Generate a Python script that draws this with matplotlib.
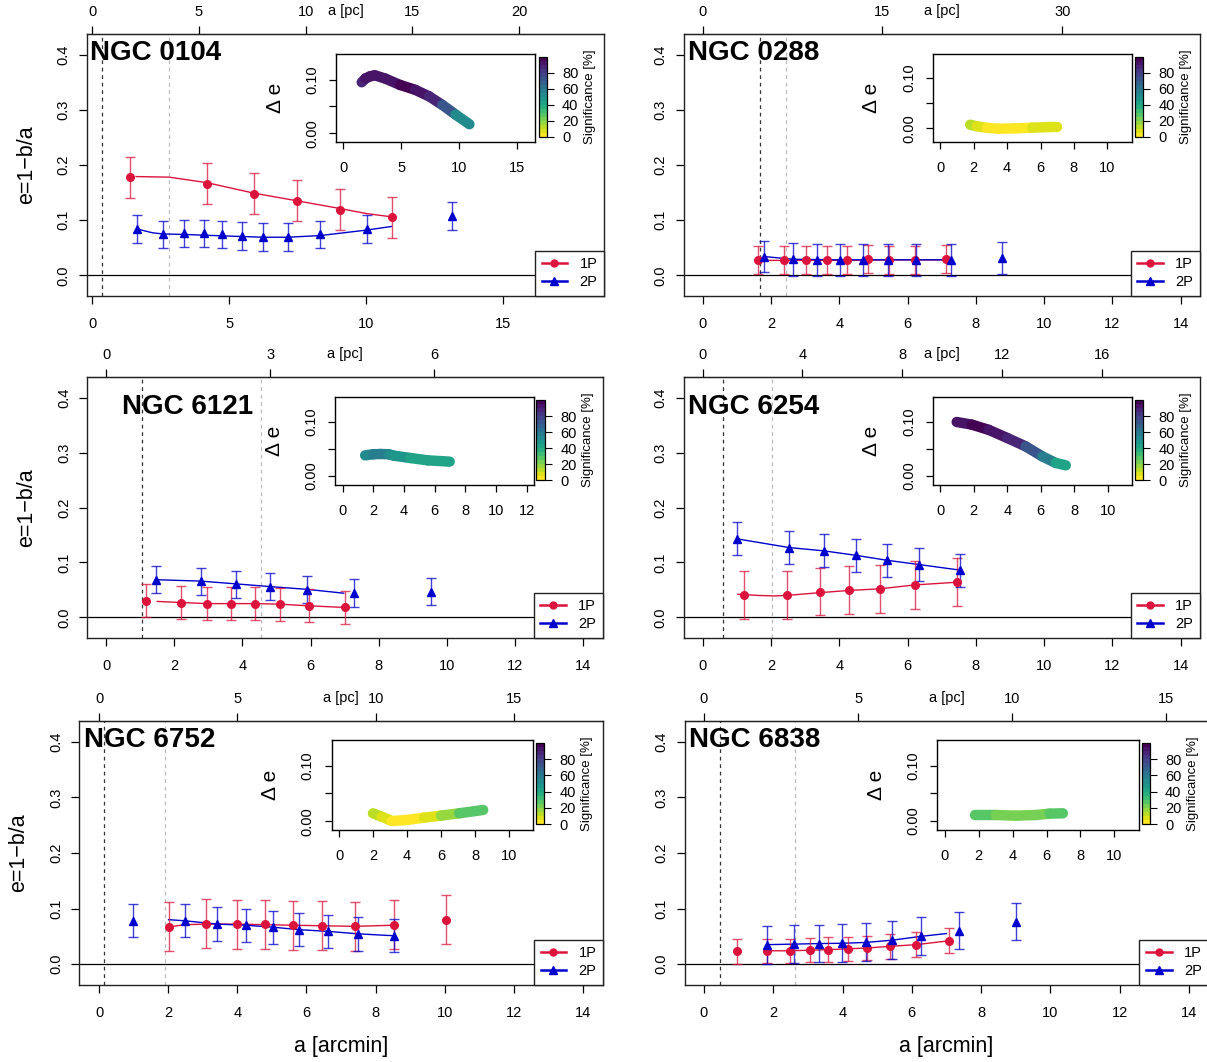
import matplotlib
matplotlib.use('Agg')
import matplotlib.pyplot as plt
import numpy as np
from matplotlib.collections import LineCollection
from matplotlib.colors import Normalize
from matplotlib.cm import ScalarMappable
from matplotlib.lines import Line2D

plt.rcParams['font.family'] = ['Liberation Sans', 'DejaVu Sans']

# ---------------- DATA ----------------
names = ['NGC 0104', 'NGC 0288', 'NGC 6121', 'NGC 6254', 'NGC 6752', 'NGC 6838']

# NGC 0104
x1_0104 = [1.36, 4.18, 5.89, 7.48, 9.05, 10.95]
e1_0104 = [0.178, 0.166, 0.148, 0.135, 0.119, 0.105]
s1_0104 = [0.037, 0.037, 0.037, 0.037, 0.037, 0.037]
x2_0104 = [1.63, 2.57, 3.36, 4.07, 4.74, 5.45, 6.23, 7.14, 8.32, 10.02, 13.12]
e2_0104 = [0.084, 0.074, 0.076, 0.076, 0.074, 0.071, 0.069, 0.069, 0.074, 0.084, 0.107]
s2_0104 = [0.025, 0.025, 0.025, 0.025, 0.025, 0.025, 0.025, 0.025, 0.025, 0.025, 0.025]
f1x_0104 = [1.6, 2.8, 4.18, 5.89, 7.48, 9.05, 10.0, 10.92]
f1y_0104 = [0.179, 0.178, 0.168, 0.149, 0.135, 0.121, 0.112, 0.106]
f2x_0104 = [1.63, 2.2, 2.57, 3.36, 4.74, 6.23, 7.14, 8.32, 10.02, 10.92]
f2y_0104 = [0.084, 0.077, 0.075, 0.074, 0.0715, 0.069, 0.069, 0.072, 0.082, 0.0885]
dx_0104 = [1.58, 1.9, 2.3, 2.7, 3.6, 4.9, 6.2, 7.4, 8.55, 9.7, 10.9]
de_0104 = [0.095, 0.102, 0.106, 0.108, 0.102, 0.090, 0.081, 0.069, 0.053, 0.035, 0.017]
sg_0104 = [86, 90, 92, 92, 93, 96, 96, 92, 78, 62, 42]

# NGC 0288
x1_0288 = [1.61, 2.39, 3.04, 3.63, 4.22, 4.83, 5.47, 6.23, 7.14]
e1_0288 = [0.027, 0.027, 0.027, 0.027, 0.027, 0.029, 0.028, 0.028, 0.029]
s1_0288 = [0.0255, 0.0255, 0.0255, 0.0255, 0.0255, 0.0255, 0.0255, 0.0255, 0.0255]
x2_0288 = [1.80, 2.64, 3.34, 4.02, 4.70, 5.44, 6.24, 7.26, 8.78]
e2_0288 = [0.034, 0.029, 0.027, 0.028, 0.028, 0.028, 0.028, 0.028, 0.031]
s2_0288 = [0.028, 0.030, 0.029, 0.029, 0.029, 0.029, 0.029, 0.029, 0.029]
f1x_0288 = [1.61, 2.39, 4.0, 5.5, 7.14]
f1y_0288 = [0.027, 0.027, 0.027, 0.028, 0.028]
f2x_0288 = [1.80, 2.64, 4.0, 5.5, 7.1]
f2y_0288 = [0.034, 0.029, 0.028, 0.028, 0.028]
dx_0288 = [1.79, 2.2, 2.8, 3.5, 4.5, 5.5, 6.5, 7.0]
de_0288 = [0.0072, 0.004, 0.001, -0.0007, 0.0, 0.0013, 0.0026, 0.0026]
sg_0288 = [12, 8, 3, 2, 2, 3, 8, 5]

# NGC 6121
x1_6121 = [1.16, 2.19, 2.96, 3.67, 4.36, 5.11, 5.94, 7.01]
e1_6121 = [0.030, 0.027, 0.025, 0.025, 0.025, 0.024, 0.021, 0.018]
s1_6121 = [0.030, 0.030, 0.030, 0.030, 0.030, 0.030, 0.030, 0.030]
x2_6121 = [1.47, 2.77, 3.80, 4.81, 5.89, 7.26, 9.53]
e2_6121 = [0.0685, 0.0655, 0.060, 0.0558, 0.0503, 0.0442, 0.0467]
s2_6121 = [0.025, 0.025, 0.025, 0.025, 0.025, 0.025, 0.025]
f1x_6121 = [1.5, 2.19, 2.96, 4.36, 5.11, 5.94, 7.01]
f1y_6121 = [0.029, 0.027, 0.025, 0.025, 0.024, 0.021, 0.018]
f2x_6121 = [1.47, 2.77, 3.80, 4.81, 5.89, 6.97]
f2y_6121 = [0.0685, 0.066, 0.061, 0.056, 0.051, 0.044]
dx_6121 = [1.47, 2.0, 2.46, 3.0, 3.34, 4.44, 5.54, 6.97]
de_6121 = [0.038, 0.040, 0.0405, 0.040, 0.0374, 0.033, 0.0288, 0.0264]
sg_6121 = [50, 55, 58, 55, 52, 47, 42, 40]

# NGC 6254
x1_6254 = [1.22, 2.48, 3.44, 4.30, 5.20, 6.21, 7.46]
e1_6254 = [0.041, 0.041, 0.047, 0.050, 0.052, 0.059, 0.065]
s1_6254 = [0.0435, 0.0435, 0.0435, 0.0435, 0.0435, 0.0435, 0.0435]
x2_6254 = [1.00, 2.54, 3.56, 4.48, 5.39, 6.35, 7.54]
e2_6254 = [0.143, 0.127, 0.121, 0.113, 0.104, 0.096, 0.086]
s2_6254 = [0.030, 0.030, 0.030, 0.030, 0.030, 0.030, 0.030]
f1x_6254 = [1.03, 1.6, 2.1, 2.48, 3.44, 4.30, 5.20, 6.21, 7.46]
f1y_6254 = [0.042, 0.040, 0.039, 0.040, 0.045, 0.049, 0.052, 0.059, 0.064]
f2x_6254 = [1.00, 2.54, 3.56, 4.48, 5.39, 6.35, 7.54]
f2y_6254 = [0.143, 0.127, 0.121, 0.113, 0.104, 0.096, 0.086]
dx_6254 = [0.98, 1.89, 2.89, 4.0, 5.1, 6.1, 6.9, 7.5]
de_6254 = [0.0994, 0.0945, 0.085, 0.070, 0.0546, 0.036, 0.024, 0.0196]
sg_6254 = [92, 97, 96, 90, 80, 62, 48, 40]

# NGC 6752
x1_6752 = [2.01, 3.10, 3.98, 4.79, 5.61, 6.46, 7.39, 8.52, 10.04]
e1_6752 = [0.067, 0.0725, 0.072, 0.072, 0.070, 0.069, 0.068, 0.071, 0.080]
s1_6752 = [0.044, 0.044, 0.044, 0.044, 0.044, 0.044, 0.044, 0.044, 0.044]
x2_6752 = [0.98, 2.48, 3.42, 4.24, 5.02, 5.79, 6.61, 7.49, 8.54]
e2_6752 = [0.078, 0.078, 0.072, 0.070, 0.0665, 0.062, 0.059, 0.0545, 0.051]
s2_6752 = [0.030, 0.030, 0.030, 0.030, 0.030, 0.030, 0.030, 0.030, 0.030]
f1x_6752 = [2.01, 2.5, 3.10, 3.98, 4.79, 5.61, 6.46, 7.39, 8.52]
f1y_6752 = [0.067, 0.071, 0.072, 0.072, 0.071, 0.070, 0.069, 0.068, 0.070]
f2x_6752 = [2.01, 2.48, 3.42, 4.24, 5.02, 5.79, 6.61, 7.49, 8.54]
f2y_6752 = [0.080, 0.078, 0.072, 0.070, 0.0665, 0.062, 0.059, 0.0545, 0.051]
dx_6752 = [1.99, 2.5, 3.1, 4.0, 5.0, 6.0, 7.06, 8.48]
de_6752 = [0.0144, 0.0084, 0.0006, 0.0024, 0.0066, 0.0102, 0.0144, 0.0204]
sg_6752 = [13, 8, 2, 2, 5, 12, 20, 36]

# NGC 6838
x1_6838 = [0.95, 1.83, 2.49, 3.06, 3.58, 4.15, 4.72, 5.36, 6.12, 7.08]
e1_6838 = [0.023, 0.024, 0.024, 0.025, 0.026, 0.0275, 0.029, 0.032, 0.035, 0.0425]
s1_6838 = [0.022, 0.022, 0.022, 0.022, 0.022, 0.022, 0.022, 0.022, 0.022, 0.022]
x2_6838 = [1.81, 2.61, 3.32, 3.98, 4.68, 5.42, 6.27, 7.37, 9.02]
e2_6838 = [0.035, 0.0365, 0.037, 0.0377, 0.0395, 0.043, 0.050, 0.0605, 0.0766]
s2_6838 = [0.034, 0.034, 0.034, 0.034, 0.034, 0.034, 0.034, 0.034, 0.034]
f1x_6838 = [1.83, 2.49, 3.06, 3.58, 4.15, 4.72, 5.36, 6.12, 7.08]
f1y_6838 = [0.024, 0.024, 0.025, 0.026, 0.0275, 0.029, 0.032, 0.035, 0.042]
f2x_6838 = [1.81, 2.61, 3.32, 3.98, 4.68, 5.42, 6.27, 7.0]
f2y_6838 = [0.035, 0.036, 0.037, 0.0375, 0.039, 0.043, 0.050, 0.055]
dx_6838 = [1.8, 3.0, 4.19, 5.38, 6.17, 6.96]
de_6838 = [0.0108, 0.0108, 0.0096, 0.0108, 0.0133, 0.0139]
sg_6838 = [28, 28, 21, 21, 27, 29]

# core radius (black) and half-light radius (grey), arcmin
r_core = [0.37, 1.67, 1.06, 0.60, 0.15, 0.47]
r_half = [2.79, 2.45, 4.54, 2.04, 1.91, 2.63]
# pc per arcmin for the top axis
pc_per_arcmin = [1.284, 2.848, 0.623, 1.369, 1.249, 1.124]
pc_ticks = [[0, 5, 10, 15, 20], [0, 15, 30], [0, 3, 6], [0, 4, 8, 12, 16], [0, 5, 10, 15], [0, 5, 10, 15]]
arcmin_ticks = [[0, 5, 10, 15], list(range(0, 15, 2)), list(range(0, 15, 2)),
                list(range(0, 15, 2)), list(range(0, 15, 2)), list(range(0, 15, 2))]
inset_xticks = [[0, 5, 10, 15], [0, 2, 4, 6, 8, 10], [0, 2, 4, 6, 8, 10, 12],
                [0, 2, 4, 6, 8, 10], [0, 2, 4, 6, 8, 10], [0, 2, 4, 6, 8, 10]]
e_ticks = [0.0, 0.1, 0.2, 0.3, 0.4]
e_ticklabels = ['0.0', '0.1', '0.2', '0.3', '0.4']
sig_ticks = [0, 20, 40, 60, 80]

# ---------------- LAYOUT (pixels) ----------------
W, H = 1207, 1062
main_box = [(86.8, 34, 604, 296), (683.5, 34, 1199.8, 296), (87.4, 377, 602.6, 638),
            (683.5, 377, 1199.8, 638), (79.4, 721, 603, 985), (684.5, 721, 1208.4, 985)]
main_xlim = [(-0.2, 18.68), (-0.56, 14.56), (-0.55, 14.57), (-0.56, 14.56), (-0.57, 14.58), (-0.56, 14.56)]
in_box = [(336, 54, 535.4, 142), (932.9, 54, 1131.9, 142), (335.2, 397, 533.7, 485),
          (932.9, 397, 1131.9, 485), (331.5, 740, 533.1, 830), (937.1, 740, 1138.8, 830)]
in_xlim = [(-0.645, 16.61), (-0.44, 11.47), (-0.48, 12.44), (-0.44, 11.45), (-0.45, 11.42), (-0.46, 11.44)]
in_ylim = [(-0.016, 0.1475), (-0.027, 0.147), (-0.0166, 0.1454), (-0.0166, 0.1454), (-0.0156, 0.146), (-0.0163, 0.1464)]
cb_box = [(538.8, 57, 546.6, 137), (1134.9, 57, 1143.3, 137), (536.4, 400, 545.2, 480),
          (1134.9, 400, 1143.3, 480), (535.8, 743, 544.4, 824), (1141.9, 743, 1149.6, 824)]
title_pos = [(90, 60), (688, 60), (121.5, 414), (688, 414), (83.5, 747), (689, 747)]

RED = '#DC143C'
BLUE = '#0000CD'
cmap = plt.get_cmap('viridis_r', 20)
norm = Normalize(0, 100)

fig = plt.figure(figsize=(W / 100, H / 100), dpi=100)


def px_axes(box):
    l, t, r, b = box
    return fig.add_axes([l / W, 1 - b / H, (r - l) / W, (b - t) / H])


series = [
    (x1_0104, e1_0104, s1_0104, x2_0104, e2_0104, s2_0104, f1x_0104, f1y_0104, f2x_0104, f2y_0104, dx_0104, de_0104, sg_0104),
    (x1_0288, e1_0288, s1_0288, x2_0288, e2_0288, s2_0288, f1x_0288, f1y_0288, f2x_0288, f2y_0288, dx_0288, de_0288, sg_0288),
    (x1_6121, e1_6121, s1_6121, x2_6121, e2_6121, s2_6121, f1x_6121, f1y_6121, f2x_6121, f2y_6121, dx_6121, de_6121, sg_6121),
    (x1_6254, e1_6254, s1_6254, x2_6254, e2_6254, s2_6254, f1x_6254, f1y_6254, f2x_6254, f2y_6254, dx_6254, de_6254, sg_6254),
    (x1_6752, e1_6752, s1_6752, x2_6752, e2_6752, s2_6752, f1x_6752, f1y_6752, f2x_6752, f2y_6752, dx_6752, de_6752, sg_6752),
    (x1_6838, e1_6838, s1_6838, x2_6838, e2_6838, s2_6838, f1x_6838, f1y_6838, f2x_6838, f2y_6838, dx_6838, de_6838, sg_6838),
]

TS = 10.5
for i in range(6):
    (x1, e1, s1, x2, e2, s2, f1x, f1y, f2x, f2y, dx, de, sg) = series[i]
    box = main_box[i]
    wpx = box[2] - box[0]
    hpx = box[3] - box[1]
    ax = px_axes(box)
    ax.set_xlim(*main_xlim[i])
    ax.set_ylim(-0.0376, 0.4376)
    ax.axhline(0, color='black', lw=0.9, zorder=1)
    ax.axvline(r_core[i], color='#333333', ls=(0, (3, 3)), lw=0.9, zorder=1)
    ax.axvline(r_half[i], color='#bbbbbb', ls=(0, (3, 3)), lw=0.9, zorder=1)
    ax.plot(f1x, f1y, color=RED, lw=1.0, zorder=2)
    ax.plot(f2x, f2y, color=BLUE, lw=1.0, zorder=2)
    ax.errorbar(x1, e1, yerr=s1, fmt='none', ecolor=RED, elinewidth=1.0, capsize=3.3,
                capthick=1.0, alpha=0.75, zorder=3)
    ax.errorbar(x2, e2, yerr=s2, fmt='none', ecolor=BLUE, elinewidth=1.0, capsize=3.3,
                capthick=1.0, alpha=0.75, zorder=3)
    ax.plot(x1, e1, 'o', color=RED, ms=5.5, ls='none', zorder=4)
    ax.plot(x2, e2, '^', color=BLUE, ms=6, ls='none', zorder=4)

    ax.set_xticks(arcmin_ticks[i])
    ax.set_yticks(e_ticks)
    ax.set_yticklabels(e_ticklabels, rotation=90, va='center')
    ax.tick_params(direction='out', length=5.5, width=0.9, labelsize=TS)
    ax.tick_params(axis='x', pad=9.5)
    ax.tick_params(axis='y', pad=6)
    for sp in ax.spines.values():
        sp.set_linewidth(1.0)
        sp.set_color('#222222')

    k = pc_per_arcmin[i]
    sec = ax.secondary_xaxis('top', functions=(lambda v, k=k: v * k, lambda v, k=k: v / k))
    sec.set_xticks(pc_ticks[i])
    sec.tick_params(direction='out', length=5.5, width=0.9, labelsize=TS, pad=5)
    ax.annotate('a [pc]', xy=(0.5, 1), xycoords='axes fraction', xytext=(0, 16.5),
                textcoords='offset points', ha='center', va='center', fontsize=TS)

    if i % 2 == 0:
        ax.set_ylabel('e=1\u2212b/a', fontsize=15.5, va='center')
        ax.yaxis.set_label_coords(-60.5 / wpx, 0.5)
    if i >= 4:
        ax.set_xlabel('a [arcmin]', fontsize=15.5, va='center')
        ax.xaxis.set_label_coords(0.5, -61.7 / hpx)

    handles = [Line2D([], [], color=RED, marker='o', ms=5, lw=1.8),
               Line2D([], [], color=BLUE, marker='^', ms=5.5, lw=1.8)]
    leg = ax.legend(handles, ['1P', '2P'], loc='lower right', borderaxespad=0, fancybox=False,
                    framealpha=1, edgecolor='#222222', fontsize=TS, handlelength=1.75,
                    handletextpad=0.85, borderpad=0.45, labelspacing=0.3)
    leg.get_frame().set_linewidth(1.0)
    leg.set_zorder(10)

    tx, ty = title_pos[i]
    fig.text(tx / W, 1 - ty / H, names[i], fontsize=20, fontweight='bold', va='baseline', ha='left')

    # inset
    ib = in_box[i]
    axi = px_axes(ib)
    axi.set_xlim(*in_xlim[i])
    axi.set_ylim(*in_ylim[i])
    pts = np.column_stack([dx, de])
    segs = [pts[j:j + 2] for j in range(len(pts) - 1)]
    cols = [cmap(norm(0.5 * (sg[j] + sg[j + 1]))) for j in range(len(pts) - 1)]
    lc = LineCollection(segs, colors=cols, linewidths=7.5, capstyle='round', joinstyle='round')
    axi.add_collection(lc)
    axi.set_xticks(inset_xticks[i])
    axi.set_yticks([0.0, 0.05, 0.10])
    axi.set_yticklabels(['0.00', '', '0.10'], rotation=90, va='center')
    axi.tick_params(direction='out', length=5, width=0.9, labelsize=TS)
    axi.tick_params(axis='x', pad=9)
    axi.tick_params(axis='y', pad=7)
    for sp in axi.spines.values():
        sp.set_linewidth(1.0)
    axi.set_ylabel('\u0394 e', fontsize=15, va='center')
    axi.yaxis.set_label_coords(-61 / (ib[2] - ib[0]), 0.5)

    cb = cb_box[i]
    cax = px_axes(cb)
    cbar = fig.colorbar(ScalarMappable(norm=norm, cmap=cmap), cax=cax, ticks=sig_ticks)
    cbar.outline.set_linewidth(0.9)
    cax.tick_params(labelsize=TS, length=5, width=0.8, pad=6)
    cbar.set_label('Significance [%]', fontsize=9.5, va='center', rotation=90)
    cax.yaxis.set_label_coords(1 + 43 / (cb[2] - cb[0]), 0.5)

fig.savefig('out.png', dpi=100)
